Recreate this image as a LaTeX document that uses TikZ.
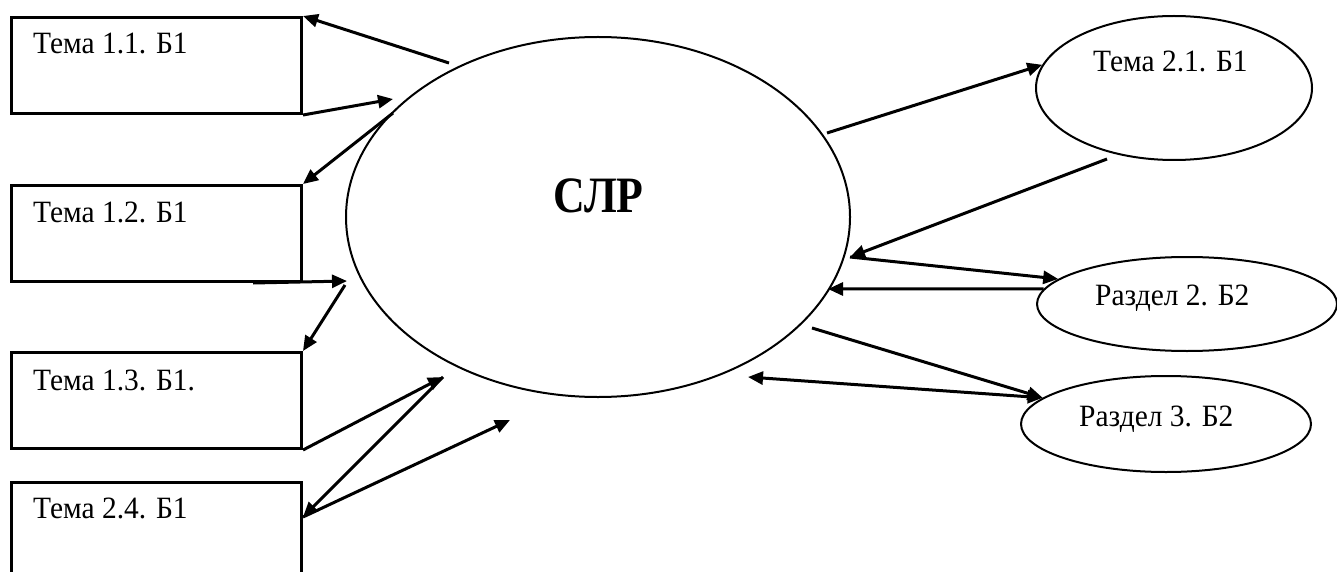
\documentclass[tikz,border=0pt]{standalone}
\usepackage{fontspec}
\setmainfont{Liberation Serif}
\newfontfamily\lblfont[FakeStretch=0.95]{Liberation Serif}
\newfontfamily\slrfont[FakeStretch=0.86]{Liberation Serif}
\usetikzlibrary{arrows.meta,shapes.geometric}
\begin{document}
\begin{tikzpicture}[x=1pt,y=-1pt,
  box/.style={draw,line width=3pt,rectangle,minimum width=290pt,minimum height=96pt,anchor=north west,inner sep=0pt},
  oval/.style={draw,line width=2pt,ellipse,inner sep=0pt},
  lbl/.style={anchor=base west,font=\lblfont\fontsize{31}{34}\selectfont,inner sep=0pt},
  tipd/.tip={Triangle[length=15pt,width=13pt]},
  arr/.style={line width=3pt,-tipd},
  darr/.style={line width=3pt,tipd-tipd}]
\useasboundingbox (0,0) rectangle (1337,572);
\clip (0,0) rectangle (1337,572);
\fill[white] (0,0) rectangle (1337,572);
% boxes
\node[box] (b11) at (10,16) {};
\node[box] (b12) at (10,184) {};
\node[box] (b13) at (10,351) {};
\node[box,minimum height=110pt] (b24) at (10,481) {};
\node[lbl] (l11) at (33,54) {Тема 1.1. Б1};
\node[lbl] (l12) at (33,222) {Тема 1.2. Б1};
\node[lbl] (l13) at (33,390) {Тема 1.3. Б1.};
\node[lbl] (l24) at (33,518) {Тема 2.4. Б1};
% central ellipse
\node[oval,minimum width=504pt,minimum height=360pt] (slr) at (598,217) {};
\node[font=\slrfont\bfseries\fontsize{51}{54}\selectfont,anchor=base,inner sep=0pt] (slrt) at (598.5,212) {СЛР};
% right ellipses
\node[oval,minimum width=276pt,minimum height=144pt] (t21) at (1174,88) {};
\node[lbl] (lt21) at (1093,72) {Тема 2.1. Б1};
\node[oval,minimum width=300pt,minimum height=94pt] (r2) at (1187,304) {};
\node[lbl] (lr2) at (1095,305) {Раздел 2. Б2};
\node[oval,minimum width=290pt,minimum height=96pt] (r3) at (1166,424) {};
\node[lbl] (lr3) at (1079,426) {Раздел 3. Б2};
% connector ends near the central ellipse
\coordinate (c1) at (449,63);
\coordinate (c2) at (393,99);
\coordinate (c3) at (393,113);
\coordinate (c4) at (347,281);
\coordinate (c5) at (345,285);
\coordinate (c6) at (443,377);
\coordinate (c8) at (510,420);
\coordinate (c9) at (827,133);
\coordinate (c10) at (850,257);
\coordinate (c12) at (828,289);
\coordinate (c13) at (812,328);
\coordinate (c14) at (748,377);
\coordinate (d10) at (1107,159);
\coordinate (b24e) at ([yshift=-36pt]b24.north east);
% connectors left
\draw[arr] (c1) -- (b11.north east);
\draw[arr] (b11.south east) -- (c2);
\draw[arr] (c3) -- (b12.north east);
\draw[arr] ([xshift=-50pt]b12.south east) -- (c4);
\draw[arr] (c5) -- (b13.north east);
\draw[arr] (b13.south east) -- (c6);
\draw[arr] (c6) -- (b24e);
\draw[arr] (b24e) -- (c8);
% connectors right
\draw[arr] (c9) -- (t21.170);
\draw[arr] (d10) -- (c10);
\draw[arr] (c10) -- (r2.169);
\draw[arr] (r2.174) -- (c12);
\draw[arr] (c13) -- (r3.168);
\draw[darr] (c14) -- (r3.168);
\end{tikzpicture}
\end{document}
